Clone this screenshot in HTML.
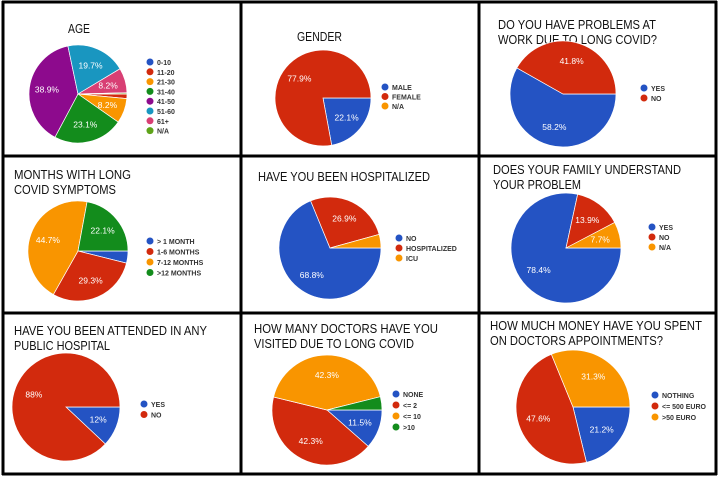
<!DOCTYPE html>
<html><head><meta charset="utf-8"><style>
body{margin:0;background:#fff;width:720px;height:476px;overflow:hidden;font-family:"Liberation Sans",sans-serif}
</style></head><body>
<svg id="s" width="720" height="476" xmlns="http://www.w3.org/2000/svg" font-family="Liberation Sans, sans-serif">
<rect width="720" height="476" fill="#fff"/>
</svg>
<script>
const s=document.getElementById('s');const NS='http://www.w3.org/2000/svg';
function el(t,a,txt){const e=document.createElementNS(NS,t);for(const k in a)e.setAttribute(k,a[k]);if(txt!==undefined)e.textContent=txt;s.appendChild(e);return e;}
const B='#2453c3',R='#d22a0d',O='#f99500',G='#138c1c',P='#8d0a8d',C='#1996c0',K='#d83f74',L='#5ea319';
function pie(cx,cy,r,data){let a=90;data.forEach(d=>{const sw=d[0]*3.6;const a0=a*Math.PI/180,a1=(a+sw)*Math.PI/180;
const x0=cx+r*Math.sin(a0),y0=cy-r*Math.cos(a0),x1=cx+r*Math.sin(a1),y1=cy-r*Math.cos(a1);
el('path',{d:`M${cx},${cy}L${x0},${y0}A${r},${r} 0 ${sw>180?1:0} 1 ${x1},${y1}Z`,fill:d[1],stroke:'#fff','stroke-width':0.7});
if(d[2]){const m=(a+sw/2)*Math.PI/180;el('text',{x:cx+r*0.64*Math.sin(m),y:cy-r*0.64*Math.cos(m)+3,fill:'#fff','font-size':8.5,'text-anchor':'middle'},d[2]);}
a+=sw;});}
function leg(x,y,st,items){items.forEach((it,i)=>{el('circle',{cx:x,cy:y+i*st,r:3.5,fill:it[1]});el('text',{x:x+7,y:y+i*st+3,'font-size':7,'font-weight':'bold',fill:'#333'},it[0]);});}
function title(x,y,lines){lines.forEach((t,i)=>el('text',{x:x,y:y+i*15,'font-size':13,fill:'#111',textLength:t[1],lengthAdjust:'spacingAndGlyphs'},t[0]));}
title(68,33,[['AGE',22]]);
pie(78,94,49,[[1.5,R],[8.2,O,'8.2%'],[23.1,G,'23.1%'],[38.9,P,'38.9%'],[19.7,C,'19.7%'],[8.2,K,'8.2%'],[0.4,L]]);
leg(150,62,9.8,[['0-10',B],['11-20',R],['21-30',O],['31-40',G],['41-50',P],['51-60',C],['61+',K],['N/A',L]]);
title(297,41,[['GENDER',45]]);
pie(323,98,48,[[22.1,B,'22.1%'],[77.9,R,'77.9%']]);
leg(385,87,9.5,[['MALE',B],['FEMALE',R],['N/A',O]]);
title(498,29,[['DO YOU HAVE PROBLEMS AT',158],['WORK DUE TO LONG COVID?',159]]);
pie(563,94,53,[[58.2,B,'58.2%'],[41.8,R,'41.8%']]);
leg(644,88,10,[['YES',B],['NO',R]]);
title(14,179,[['MONTHS WITH LONG',117],['COVID SYMPTOMS',102]]);
pie(78,251,50,[[3.9,B],[29.3,R,'29.3%'],[44.7,O,'44.7%'],[22.1,G,'22.1%']]);
leg(150,241,10.5,[['> 1 MONTH',B],['1-6 MONTHS',R],['7-12 MONTHS',O],['>12 MONTHS',G]]);
title(258,181,[['HAVE YOU BEEN HOSPITALIZED',172]]);
pie(330,248,51,[[68.8,B,'68.8%'],[26.9,R,'26.9%'],[4.3,O]]);
leg(399,238,10,[['NO',B],['HOSPITALIZED',R],['ICU',O]]);
title(493,174,[['DOES YOUR FAMILY UNDERSTAND',188],['YOUR PROBLEM',88]]);
pie(566,248,55,[[78.4,B,'78.4%'],[13.9,R,'13.9%'],[7.7,O,'7.7%']]);
leg(652,227,10,[['YES',B],['NO',R],['N/A',O]]);
title(14,335,[['HAVE YOU BEEN ATTENDED IN ANY',193],['PUBLIC HOSPITAL',96]]);
pie(66,407,54,[[12,B,'12%'],[88,R,'88%']]);
leg(144,404,10.5,[['YES',B],['NO',R]]);
title(254,333,[['HOW MANY DOCTORS HAVE YOU',184],['VISITED DUE TO LONG COVID',160]]);
pie(327,410,55,[[11.5,B,'11.5%'],[42.3,R,'42.3%'],[42.3,O,'42.3%'],[3.9,G]]);
leg(396,394,11,[['NONE',B],['<= 2',R],['<= 10',O],['>10',G]]);
title(490,330,[['HOW MUCH MONEY HAVE YOU SPENT',212],['ON DOCTORS APPOINTMENTS?',173]]);
pie(573,407,57,[[21.2,B,'21.2%'],[47.6,R,'47.6%'],[31.2,O,'31.3%']]);
leg(655,395,11,[['NOTHING',B],['<= 500 EURO',R],['>50 EURO',O]]);
[[3,1,3,475],[241,1,241,475],[479,1,479,475],[716,1,716,475],[2,2,717,2],[2,156,717,156],[2,313,717,313],[2,474,717,474]].forEach(l=>el('line',{x1:l[0],y1:l[1],x2:l[2],y2:l[3],stroke:'#000','stroke-width':3}));
</script>
</body></html>
